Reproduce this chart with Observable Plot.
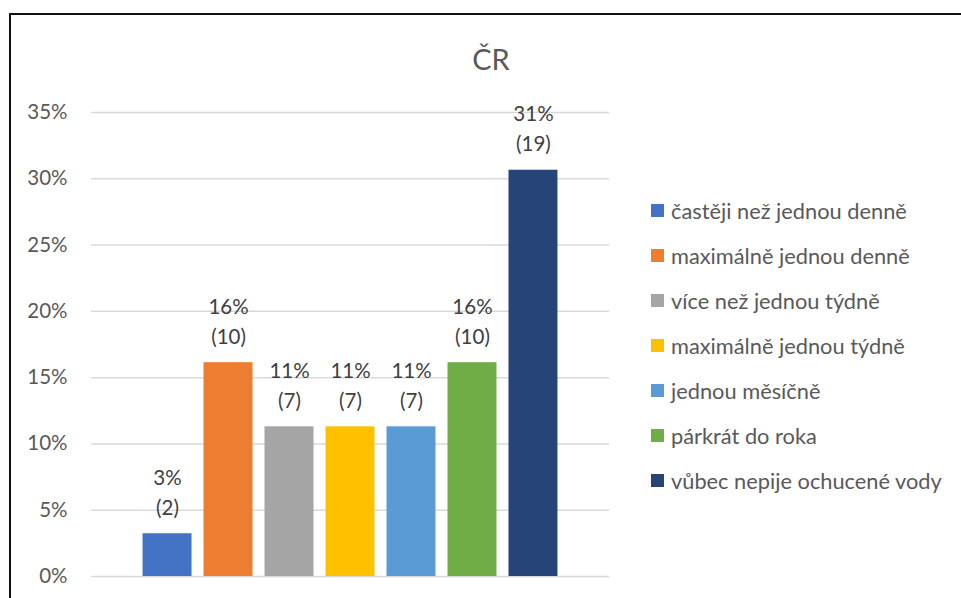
<!DOCTYPE html>
<html>
<head>
<meta charset="utf-8">
<script src="https://cdn.jsdelivr.net/npm/d3@7"></script>
<script src="https://cdn.jsdelivr.net/npm/@observablehq/plot@0.6"></script>
<style>
  html, body { margin: 0; padding: 0; background: #fff; }
  #wrap { position: relative; width: 961px; height: 598px; overflow: hidden; font-family: Lato, "Open Sans", sans-serif; }
  #frame { position: absolute; left: 9px; top: 13px; width: 1000px; height: 700px;
           border-top: 2px solid #111; border-left: 2px solid #111; pointer-events: none; }
  #title { position: absolute; left: 391px; width: 200px; top: 41px; text-align: center;
           font-size: 29px; color: #595959; }
  #legend { position: absolute; left: 651px; top: 188px; color: #595959; font-size: 21.8px; }
  .row { display: flex; align-items: center; height: 45px; white-space: nowrap; }
  .sw { width: 13px; height: 13px; margin-right: 7px; flex: none; }
  #chart { position: absolute; left: 0; top: 0; }
</style>
</head>
<body>
<div id="wrap">
  <div id="chart"></div>
  <div id="frame"></div>
  <div id="title">ČR</div>
  <div id="legend"></div>
</div>
<script>
// Frequency categories, respondent counts and colours
const categories = [
  "častěji než jednou denně",
  "maximálně jednou denně",
  "více než jednou týdně",
  "maximálně jednou týdně",
  "jednou měsíčně",
  "párkrát do roka",
  "vůbec nepije ochucené vody"
];
const counts = [2, 10, 7, 7, 7, 10, 19];
const colors = ["#4472C4", "#ED7D31", "#A5A5A5", "#FFC000", "#5B9BD5", "#70AD47", "#264478"];
const yTicks = [0, 5, 10, 15, 20, 25, 30, 35];

const total = d3.sum(counts);
const data = categories.map((c, i) => ({
  category: c,
  count: counts[i],
  share: counts[i] / total * 100,
  color: colors[i]
}));

const chart = Plot.plot({
  width: 961,
  height: 598,
  marginLeft: 91,
  marginRight: 352,
  marginTop: 112,
  marginBottom: 22,
  style: { fontFamily: "Lato, 'Open Sans', sans-serif", background: "transparent" },
  x: { domain: categories, paddingInner: 0.197, paddingOuter: 0.845, round: false, axis: null },
  y: { domain: [0, 35], axis: null },
  marks: [
    Plot.gridY(yTicks, { stroke: "#d9d9d9", strokeOpacity: 1, strokeWidth: 1.5 }),
    Plot.axisY(yTicks, {
      tickSize: 0, tickPadding: 24, fontSize: 20.5, fill: "#595959",
      label: null, tickFormat: d => d + "%"
    }),
    Plot.barY(data, { x: "category", y: "share", fill: "color" }),
    Plot.text(data, {
      x: "category", y: "share",
      text: d => `${Math.round(d.share)}%\n(${d.count})`,
      lineAnchor: "bottom", lineHeight: 1.47, dy: -19,
      fontSize: 20.5, fill: "#404040"
    })
  ]
});
document.getElementById("chart").appendChild(chart);

const legend = document.getElementById("legend");
data.forEach(d => {
  const row = document.createElement("div");
  row.className = "row";
  const sw = document.createElement("span");
  sw.className = "sw";
  sw.style.background = d.color;
  const label = document.createElement("span");
  label.textContent = d.category;
  row.appendChild(sw);
  row.appendChild(label);
  legend.appendChild(row);
});
</script>
</body>
</html>
